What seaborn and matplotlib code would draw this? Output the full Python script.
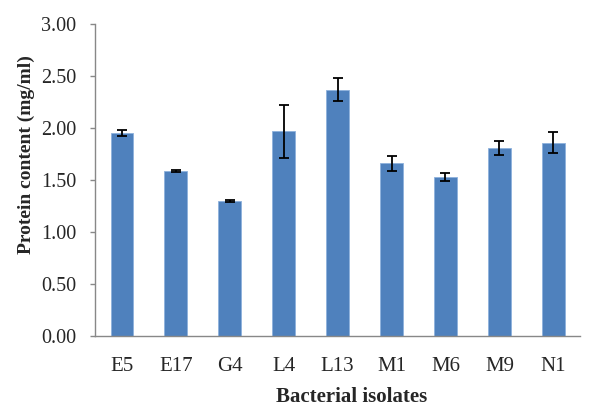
import numpy as np
import pandas as pd
import matplotlib
matplotlib.use('Agg')
import matplotlib.pyplot as plt
import seaborn as sns

# Datos
isolates = ['E5', 'E17', 'G4', 'L4', 'L13', 'M1', 'M6', 'M9', 'N1']
protein = [1.95, 1.59, 1.30, 1.97, 2.37, 1.66, 1.53, 1.81, 1.86]
sd = [0.03, 0.01, 0.01, 0.255, 0.11, 0.075, 0.035, 0.065, 0.10]
yticks = [0.0, 0.5, 1.0, 1.5, 2.0, 2.5, 3.0]

df = pd.DataFrame({'isolate': isolates, 'protein': protein})

sns.set_style('white')
plt.rcParams['font.family'] = ['Liberation Serif', 'DejaVu Serif']

fig = plt.figure(figsize=(5.97, 4.07), dpi=100)
ax = fig.add_axes([0.159, 0.174, 0.813, 0.767])

sns.barplot(data=df, x='isolate', y='protein', color='#4F81BD', width=0.42,
            saturation=1, edgecolor='#8EB1DC', linewidth=0.6, ax=ax)
ax.errorbar(np.arange(len(isolates)), protein, yerr=sd, fmt='none',
            ecolor='black', elinewidth=1.3, capsize=3.4, capthick=1.3)

ax.set_ylim(0, 3)
ax.set_xlim(-0.5, len(isolates) - 0.5)
ax.set_yticks(yticks)
ax.set_yticklabels([f'{v:.2f}' for v in yticks], fontsize=14.5)
ax.set_xticks(np.arange(len(isolates)))
ax.set_xticklabels(isolates, fontsize=15)
ax.set_xticks(np.arange(-0.5, len(isolates), 1.0), minor=True)
ax.tick_params(axis='x', which='major', length=0, pad=15)
ax.tick_params(axis='x', which='minor', length=4.5, color='#888888', width=1)
ax.tick_params(axis='y', length=3.6, color='#888888', width=1, direction='out',
               left=True, pad=10)

for s in ['top', 'right']:
    ax.spines[s].set_visible(False)
for s in ['left', 'bottom']:
    ax.spines[s].set_color('#888888')
    ax.spines[s].set_linewidth(1)

ax.set_xlabel('Bacterial isolates', fontsize=15, fontweight='bold')
ax.set_ylabel('Protein content (mg/ml)', fontsize=14, fontweight='bold')
ax.xaxis.set_label_coords(0.528, -0.163)
ax.yaxis.set_label_coords(-0.124, 0.583)

fig.savefig('out.png', dpi=100)
